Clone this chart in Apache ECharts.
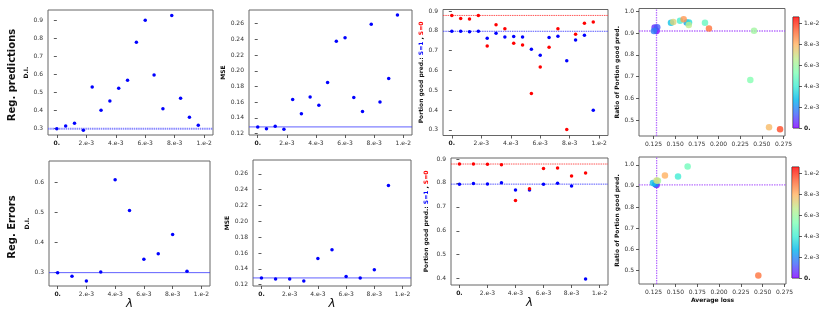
<!DOCTYPE html>
<html><head><meta charset="utf-8">
<script src="https://cdn.jsdelivr.net/npm/echarts@6/dist/echarts.min.js"></script>
<style>html,body{margin:0;padding:0;background:#fff}#c{width:822px;height:313px}</style>
</head><body><div id="c"></div>
<script>
// ---------- data ----------
const lamTop = [0,0.0006,0.0012,0.0018,0.0024,0.003,0.0036,0.0042,0.0048,0.0054,0.006,0.0066,0.0072,0.0078,0.0084,0.009,0.0096];
const diTop = [0.300,0.315,0.330,0.291,0.531,0.402,0.454,0.524,0.569,0.780,0.902,0.598,0.411,0.928,0.469,0.363,0.319];
const mseTop = [0.1285,0.1263,0.1293,0.1255,0.1636,0.1454,0.1665,0.1560,0.1851,0.2376,0.2422,0.1661,0.1483,0.2592,0.1602,0.1902,0.2710];
const goodS1Top = [0.798,0.798,0.796,0.798,0.763,0.788,0.769,0.771,0.769,0.707,0.677,0.766,0.773,0.649,0.754,0.778,0.399];
const goodS0Top = [0.878,0.863,0.860,0.878,0.724,0.831,0.811,0.737,0.729,0.484,0.617,0.717,0.811,0.302,0.783,0.838,0.845];
const lossTop = [0.1285,0.1263,0.1293,0.1255,0.1633,0.1452,0.1660,0.1556,0.1844,0.2367,0.2410,0.1657,0.1478,0.2583,0.1598,0.1890,0.2710];
const ratioTop = [0.909,0.925,0.926,0.909,0.948,0.947,0.948,0.956,0.947,0.684,0.910,0.936,0.950,0.468,0.963,0.920,0.459];

const lamBot = [0,0.001,0.002,0.003,0.004,0.005,0.006,0.007,0.008,0.009];
const diBot = [0.300,0.288,0.272,0.302,0.610,0.507,0.345,0.363,0.427,0.305];
const mseBot = [0.1284,0.1272,0.1272,0.1246,0.1529,0.1639,0.1301,0.1284,0.1386,0.2453];
const goodS1Bot = [0.795,0.798,0.796,0.801,0.770,0.770,0.795,0.799,0.787,0.399];
const goodS0Bot = [0.879,0.879,0.878,0.876,0.727,0.776,0.860,0.862,0.829,0.841];
const lossBot = [0.1284,0.1272,0.1272,0.1243,0.1530,0.1640,0.1300,0.1284,0.1380,0.2450];
const ratioBot = [0.904,0.909,0.908,0.914,0.944,0.992,0.924,0.926,0.949,0.475];

// baselines
const diTopBase = 0.300, mseTopBase = 0.1285, s1TopBase = 0.798, s0TopBase = 0.878, ratioTopBase = 0.909, lossTopBase = 0.1285;
const diBotBase = 0.300, mseBotBase = 0.1284, s1BotBase = 0.795, s0BotBase = 0.879, ratioBotBase = 0.905, lossBotBase = 0.1285;

// tick labels
const lamTicks = [0,0.002,0.004,0.006,0.008,0.01];
const lamLabels = ['0.','2.e-3','4.e-3','6.e-3','8.e-3','1.e-2'];
const diTopTicks = [0.3,0.4,0.5,0.6,0.7,0.8,0.9];
const diTopLabels = ['0.3','0.4','0.5','0.6','0.7','0.8','0.9'];
const diBotTicks = [0.3,0.4,0.5,0.6];
const diBotLabels = ['0.3','0.4','0.5','0.6'];
const mseTicks = [0.12,0.14,0.16,0.18,0.20,0.22,0.24,0.26];
const mseLabels = ['0.12','0.14','0.16','0.18','0.20','0.22','0.24','0.26'];
const goodTopTicks = [0.3,0.4,0.5,0.6,0.7,0.8,0.9];
const goodTopLabels = ['0.3','0.4','0.5','0.6','0.7','0.8','0.9'];
const goodBotTicks = [0.4,0.5,0.6,0.7,0.8,0.9];
const goodBotLabels = ['0.4','0.5','0.6','0.7','0.8','0.9'];
const ratioTicks = [0.5,0.6,0.7,0.8,0.9,1.0];
const ratioLabels = ['0.5','0.6','0.7','0.8','0.9','1.0'];
const lossTicks = [0.125,0.15,0.175,0.2,0.225,0.25,0.275];
const lossLabels = ['0.125','0.150','0.175','0.200','0.225','0.250','0.275'];
const cbTicks = [0,0.002,0.004,0.006,0.008,0.01];
const cbLabels = ['0.','2.e-3','4.e-3','6.e-3','8.e-3','1.e-2'];
const cbMax = 0.0106;

const rainbow = ['#8000ff','#4062fa','#00b4ec','#40ecd4','#80ffb4','#bfec8e','#ffb462','#ff6232','#ff0000'];

// axis extents
const LMIN = -0.0006, LMAX = 0.0106;
const LOSSMIN = 0.1083, LOSSMAX = 0.2767;
const RT_MIN = 0.428, RT_MAX = 1.012, RB_MIN = 0.435, RB_MAX = 1.037;

// ---------- helpers ----------
const FF = 'DejaVu Sans';
function valAxis(gi, min, max, ticks, labels, extra) {
  const fmt = v => { const i = ticks.findIndex(t => Math.abs(t - v) < 1e-9); if (i < 0) return ''; return labels[i] === '0.' ? '{b|0.}' : labels[i]; };
  return Object.assign({
    type: 'value', gridIndex: gi, min: min, max: max, scale: true,
    splitLine: {show: false}, axisLine: {show: false},
    axisTick: {show: true, length: 3, customValues: ticks, lineStyle: {color: '#333', width: 0.8}},
    axisLabel: {customValues: ticks, formatter: fmt, fontSize: 6, fontFamily: FF, color: '#333', margin: 5,
      showMinLabel: true, showMaxLabel: true,
      rich: {b: {fontWeight: 'bold', fontSize: 6, fontFamily: FF, color: '#222'}}}
  }, extra || {});
}
const yName = (txt, gap) => ({name: txt, nameLocation: 'middle', nameRotate: 90, nameGap: gap,
  nameTextStyle: {fontSize: 6, fontWeight: 'bold', fontFamily: FF, color: '#111'}});
const lamName = gap => ({name: 'λ', nameLocation: 'middle', nameGap: gap,
  nameTextStyle: {fontSize: 12, fontStyle: 'italic', fontFamily: FF, color: '#111'}});
const portionName = gap => ({name: '{k|Portion good pred.: }{b|S=1}{k| , }{r|S=0}', nameLocation: 'middle', nameRotate: 90, nameGap: gap,
  nameTextStyle: {fontSize: 6, fontWeight: 'bold', fontFamily: FF, color: '#111',
    rich: {k: {fontSize: 6, fontWeight: 'bold', fontFamily: FF, color: '#111'},
           b: {fontSize: 6, fontWeight: 'bold', fontFamily: FF, color: '#0000ff'},
           r: {fontSize: 6, fontWeight: 'bold', fontFamily: FF, color: '#ff0000'}}}});

function gridBox(l, t, w, h) {
  return {left: l, top: t, width: w, height: h, show: true, borderColor: '#666', borderWidth: 1,
    backgroundColor: 'transparent', containLabel: false, outerBoundsMode: 'none'};
}
// reference lines drawn as line series through the axes
function refLine(gi, pts, color, w, dash, op) {
  return {type: 'line', xAxisIndex: gi, yAxisIndex: gi, data: pts, showSymbol: false, symbol: 'none',
    lineStyle: {color: color, width: w, type: dash, opacity: op}, itemStyle: {color: color},
    silent: true, animation: false, z: 1, clip: true};
}
const hPts = (v, a, b) => [[a, v], [b, v]];
const vPts = (v, a, b) => [[v, a], [v, b]];
const pairs = (xs, ys) => xs.map((x, i) => [x, ys[i]]);
const triples = (xs, ys, cs) => xs.map((x, i) => [x, ys[i], cs[i]]);
function dots(gi, data, color) {
  return {type: 'scatter', xAxisIndex: gi, yAxisIndex: gi, data: data, symbolSize: 3.5,
    itemStyle: {color: color, opacity: 1}, animation: false, silent: true, z: 3};
}

const grid = [
  gridBox(48, 10, 165, 125),     // 0 P1
  gridBox(249, 10, 163, 125),    // 1 P2
  gridBox(443, 9.5, 165, 126),   // 2 P3
  gridBox(639, 8.5, 146, 127.5), // 3 P4
  gridBox(793, 17, 6, 111),      // 4 CB1
  gridBox(49, 161, 161, 125),    // 5 P5
  gridBox(253, 160, 158, 126),   // 6 P6
  gridBox(451, 158, 157, 127),   // 7 P7
  gridBox(639, 157, 147, 127),   // 8 P8
  gridBox(792, 167, 7, 111)      // 9 CB2
];
grid[4].borderColor = '#333'; grid[9].borderColor = '#333';

const xAxis = [
  valAxis(0, LMIN, LMAX, lamTicks, lamLabels),
  valAxis(1, LMIN, LMAX, lamTicks, lamLabels),
  valAxis(2, LMIN, LMAX, lamTicks, lamLabels),
  valAxis(3, LOSSMIN, LOSSMAX, lossTicks, lossLabels),
  {type: 'category', gridIndex: 4, data: ['c'], show: false},
  valAxis(5, LMIN, LMAX, lamTicks, lamLabels, lamName(9)),
  valAxis(6, LMIN, LMAX, lamTicks, lamLabels, lamName(9)),
  valAxis(7, LMIN, LMAX, lamTicks, lamLabels, lamName(9)),
  valAxis(8, LOSSMIN, LOSSMAX, lossTicks, lossLabels, {name: 'Average loss', nameLocation: 'middle', nameGap: 13,
    nameTextStyle: {fontSize: 6, fontWeight: 'bold', fontFamily: FF, color: '#111'}}),
  {type: 'category', gridIndex: 9, data: ['c'], show: false}
];
const yAxis = [
  valAxis(0, 0.265, 0.959, diTopTicks, diTopLabels, yName('D.I.', 15)),
  valAxis(1, 0.1182, 0.2775, mseTicks, mseLabels, yName('MSE', 18)),
  valAxis(2, 0.2715, 0.908, goodTopTicks, goodTopLabels, portionName(15)),
  valAxis(3, RT_MIN, RT_MAX, ratioTicks, ratioLabels, yName('Ratio of Portion good pred.', 15)),
  valAxis(4, 0, cbMax, cbTicks, cbLabels, {position: 'right'}),
  valAxis(5, 0.2554, 0.6725, diBotTicks, diBotLabels, yName('D.I.', 16)),
  valAxis(6, 0.1182, 0.2775, mseTicks, mseLabels, yName('MSE', 19)),
  valAxis(7, 0.3735, 0.9042, goodBotTicks, goodBotLabels, portionName(22)),
  valAxis(8, RB_MIN, RB_MAX, ratioTicks, ratioLabels, yName('Ratio of Portion good pred.', 15)),
  valAxis(9, 0, cbMax, cbTicks, cbLabels, {position: 'right'})
];

const gradient = {type: 'linear', x: 0, y: 1, x2: 0, y2: 0,
  colorStops: rainbow.map((c, i) => ({offset: i / (rainbow.length - 1), color: c}))};

const BL = '#3a3aff', RD = '#ff3a3a', PU = '#a040ff';
const series = [
  dots(0, pairs(lamTop, diTop), '#0000ff'),                           // 0
  dots(1, pairs(lamTop, mseTop), '#0000ff'),                          // 1
  dots(2, pairs(lamTop, goodS1Top), '#0000ff'),                       // 2
  dots(2, pairs(lamTop, goodS0Top), '#ff0000'),                       // 3
  {type: 'scatter', xAxisIndex: 3, yAxisIndex: 3, data: triples(lossTop, ratioTop, lamTop), symbolSize: 6.5,
    itemStyle: {opacity: 0.8}, animation: false, silent: true, z: 3},   // 4
  {type: 'bar', xAxisIndex: 4, yAxisIndex: 4, data: [cbMax], barWidth: '100%', itemStyle: {color: gradient, opacity: 0.8}, animation: false, silent: true}, // 5
  dots(5, pairs(lamBot, diBot), '#0000ff'),                           // 6
  dots(6, pairs(lamBot, mseBot), '#0000ff'),                          // 7
  dots(7, pairs(lamBot, goodS1Bot), '#0000ff'),                       // 8
  dots(7, pairs(lamBot, goodS0Bot), '#ff0000'),                       // 9
  {type: 'scatter', xAxisIndex: 8, yAxisIndex: 8, data: triples(lossBot, ratioBot, lamBot), symbolSize: 6.5,
    itemStyle: {opacity: 0.8}, animation: false, silent: true, z: 3},   // 10
  {type: 'bar', xAxisIndex: 9, yAxisIndex: 9, data: [cbMax], barWidth: '100%', itemStyle: {color: gradient, opacity: 0.8}, animation: false, silent: true}, // 11
  // reference lines
  refLine(0, hPts(diTopBase, LMIN, LMAX), '#6a6aff', 2, [1.5, 0.7], 0.8),
  refLine(1, hPts(mseTopBase, LMIN, LMAX), BL, 1, 'solid', 0.8),
  refLine(2, hPts(s1TopBase, LMIN, LMAX), BL, 1, [1.5, 0.8], 0.85),
  refLine(2, hPts(s0TopBase, LMIN, LMAX), RD, 1, [1.5, 0.8], 0.85),
  refLine(3, hPts(ratioTopBase, LOSSMIN, LOSSMAX), PU, 1.3, [1.5, 1], 0.75),
  refLine(3, vPts(lossTopBase, RT_MIN, RT_MAX), PU, 1.3, [1.5, 1], 0.75),
  refLine(5, hPts(diBotBase, LMIN, LMAX), BL, 1, 'solid', 0.8),
  refLine(6, hPts(mseBotBase, LMIN, LMAX), BL, 1, 'solid', 0.8),
  refLine(7, hPts(s1BotBase, LMIN, LMAX), BL, 1, [1.5, 0.8], 0.85),
  refLine(7, hPts(s0BotBase, LMIN, LMAX), RD, 1, [1.5, 0.8], 0.85),
  refLine(8, hPts(ratioBotBase, LOSSMIN, LOSSMAX), PU, 1.3, [1.5, 1], 0.75),
  refLine(8, vPts(lossBotBase, RB_MIN, RB_MAX), PU, 1.3, [1.5, 1], 0.75)
];

const chart = echarts.init(document.getElementById('c'), null, {renderer: 'canvas'});
chart.setOption({
  animation: false,
  backgroundColor: '#fff',
  grid: grid, xAxis: xAxis, yAxis: yAxis, series: series,
  visualMap: [{type: 'continuous', show: false, dimension: 2, min: 0, max: cbMax, seriesIndex: [4, 10],
    inRange: {color: rainbow}}],
  graphic: [
    {type: 'text', x: 12, y: 75, rotation: Math.PI / 2, silent: true,
      style: {text: 'Reg. predictions', fontSize: 10, fontWeight: 'bold', fontFamily: FF, fill: '#111', align: 'center', verticalAlign: 'middle'}},
    {type: 'text', x: 12, y: 227, rotation: Math.PI / 2, silent: true,
      style: {text: 'Reg. Errors', fontSize: 10, fontWeight: 'bold', fontFamily: FF, fill: '#111', align: 'center', verticalAlign: 'middle'}}
  ]
});
</script></body></html>
